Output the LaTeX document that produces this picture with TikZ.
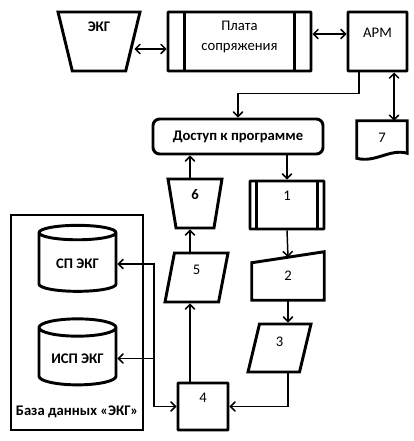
\documentclass[tikz,border=0pt]{standalone}
\usepackage{fontspec}
\setmainfont{Carlito}
\usepackage{tikz}
\usetikzlibrary{arrows,calc,shapes,positioning}

\begin{document}
\begin{tikzpicture}[
            x=0.75pt, y=-0.75pt,
            every node/.style={ font=\fontsize{11}{13}\selectfont, inner sep=0pt },
            blk/.style={ draw, line width=2.2pt, inner sep=2pt },
            procbox/.style={ blk, shape=rectangle, rounded corners=0.6pt },
            trap/.style={ blk, trapezium, trapezium stretches=true, shape border rotate=180, trapezium angle=#1 },
            term/.style={ blk, rectangle, rounded corners=5pt },
            store/.style={ blk, cylinder, shape border rotate=90, aspect=0.3 },
            conn/.style={ line width=1.1pt, >=angle 90 },
            lbl/.style={ font=\fontsize{11}{13}\selectfont },
            lblb/.style={ font=\fontsize{11}{13}\selectfont\bfseries }
        ]
        \useasboundingbox (0,0) rectangle (413,441);

        \node[trap=75, minimum width=61.5pt, minimum height=44.25pt, label={[lblb, yshift=10.9pt]center:ЭКГ}] (ekg) at (99,41.5) {};
        \node[procbox, minimum width=107.25pt, minimum height=44.25pt, label={[lbl, align=center, yshift=3.4pt]center:{Плата\\[2pt]сопряжения}}] (plata) at (239.5,41.5) {};
        \draw[blk] ([xshift=13.5pt]plata.north west) -- ([xshift=13.5pt]plata.south west)
            ([xshift=-13.5pt]plata.north east) -- ([xshift=-13.5pt]plata.south east);
        \node[procbox, minimum width=44.25pt, minimum height=44.25pt, label={[lbl, yshift=6.4pt]center:АРМ}] (arm) at (377.5,41.5) {};

        \node[term, minimum width=127.5pt, minimum height=26.25pt, lblb] (dostup) at (238,136.5) {Доступ к программе};
        \node[minimum width=37.5pt, minimum height=25.5pt, lbl] (doc7) at (382,138) {7};
        \draw[blk] (doc7.north west) -- (doc7.north east) -- ($(doc7.south east)+(0,-2)$) .. controls ($(doc7.south)+(8,-7)$) and ($(doc7.south)+(-7,8)$) .. ($(doc7.south west)+(0,3)$) -- cycle;

        \node[procbox, minimum width=55.5pt, minimum height=36pt, label={[lbl, yshift=6.75pt]center:1}] (n1) at (287,205) {};
        \draw[blk] ([xshift=6pt]n1.north west) -- ([xshift=6pt]n1.south west)
            ([xshift=-6pt]n1.north east) -- ([xshift=-6pt]n1.south east);
        \node[minimum width=54pt, minimum height=36pt, lbl] (n2) at (288,276) {2};
        \draw[blk] (n2.south west) -- ($(n2.north west)+(0,11)$) -- (n2.north east) -- (n2.south east) -- cycle;
        \node[blk, trapezium, trapezium stretches=true, trapezium left angle=74, trapezium right angle=106, minimum width=47.25pt, minimum height=36pt, label={[lbl, yshift=4.5pt]center:3}] (n3) at (279.5,348) {};
        \node[procbox, minimum width=37.5pt, minimum height=35.25pt, label={[lbl, yshift=6.4pt]center:4}] (n4) at (203,406.5) {};
        \node[blk, trapezium, trapezium stretches=true, trapezium left angle=78, trapezium right angle=102, minimum width=47.25pt, minimum height=36.75pt, label={[lbl, yshift=5.6pt]center:5}] (n5) at (196.5,277.5) {};
        \node[trap=78, minimum width=40.5pt, minimum height=36.75pt, label={[lblb, yshift=6.4pt]center:6}] (n6) at (195,203.5) {};

        \node[draw, line width=0.8pt, minimum width=99pt, minimum height=161.25pt] (dbbox) at (77,322.5) {};
        \node[store, minimum width=57.75pt, minimum height=49.5pt, lblb] (sp) at (77.5,264) {СП ЭКГ};
        \node[store, minimum width=57.75pt, minimum height=49.5pt, lblb] (isp) at (77.5,358.5) {ИСП ЭКГ};
        \node[lblb] (dbname) at (77,412) {База данных «ЭКГ»};

        \coordinate (vline) at (190,0);
        \coordinate (dbline) at (154,0);
        \coordinate (armbend) at ($(dostup.north)+(0,-24)$);

        \draw[conn,<->] ([yshift=-5.6pt]ekg.east) -- ([yshift=-5.6pt]ekg.east -| plata.west);
        \draw[conn,<->] ([yshift=5.6pt]plata.east) -- ([yshift=5.6pt]plata.east -| arm.west);
        \draw[conn,->] ([xshift=-13.9pt]arm.south) |- (armbend) -- (dostup.north);
        \draw[conn,<->] ([xshift=12.4pt]arm.south) -- ([xshift=12.4pt]arm.south |- doc7.north);
        \draw[conn,->] (n1.north |- dostup.south) -- (n1.north);
        \draw[conn,->] (n6.north -| vline) -- (dostup.south -| vline);
        \draw[conn,->] (n1.south) -- ([yshift=-4.1pt]n2.north);
        \draw[conn,->] (n2.south) -- (n2.south |- n3.north);
        \draw[conn,->] (n2.south |- n3.south) |- (n4.east);
        \draw[conn,->] (n4.north -| vline) -- (n5.south -| vline);
        \draw[conn,->] (n5.north -| vline) -- (n6.south -| vline);
        \draw[conn,<->] (sp.east) -- (sp.east -| dbline) -- (n4.west -| dbline) -- (n4.west);
        \draw[conn,->] (isp.east -| dbline) -- (isp.east);
    \end{tikzpicture}
\end{document}
